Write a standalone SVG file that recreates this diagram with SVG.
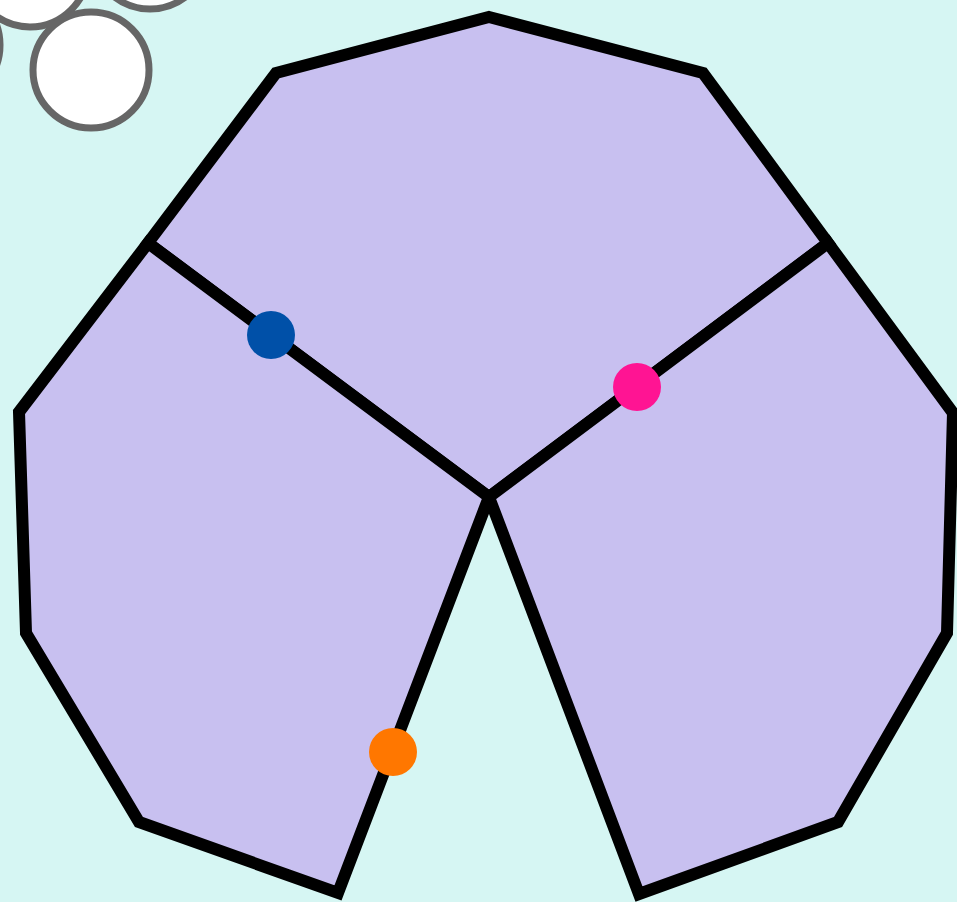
<svg xmlns="http://www.w3.org/2000/svg" width="957" height="902" viewBox="0 0 957 902">
<style>
.bub{fill:#ffffff;stroke:#666666;stroke-width:7}
.face{fill:#c8c0f0;stroke:#000000;stroke-width:12;stroke-linejoin:miter}
</style>
<rect width="957" height="902" fill="#d6f6f3"/>
<g id="bubbles">
<circle class="bub" cx="30" cy="-31" r="58"/>
<circle class="bub" cx="150" cy="-49" r="58"/>
<circle class="bub" cx="-58" cy="45" r="58"/>
<circle class="bub" cx="91" cy="70" r="58"/>
</g>
<g id="top"><polygon class="face" points="489,17 703,73 828,243 489,497 148,243 276,73"/></g>
<g id="left"><polygon class="face" points="148,243 489,497 338,893 139,822 26,633 19,412"/></g>
<g id="right"><polygon class="face" points="828,243 953,413 947,633 838,822 639,894 489,497"/></g>
<g id="dots">
<circle cx="271" cy="335" r="24" fill="#0050a8"/>
<circle cx="637" cy="387" r="24" fill="#ff1493"/>
<circle cx="393" cy="752" r="24" fill="#ff7700"/>
</g>
</svg>
